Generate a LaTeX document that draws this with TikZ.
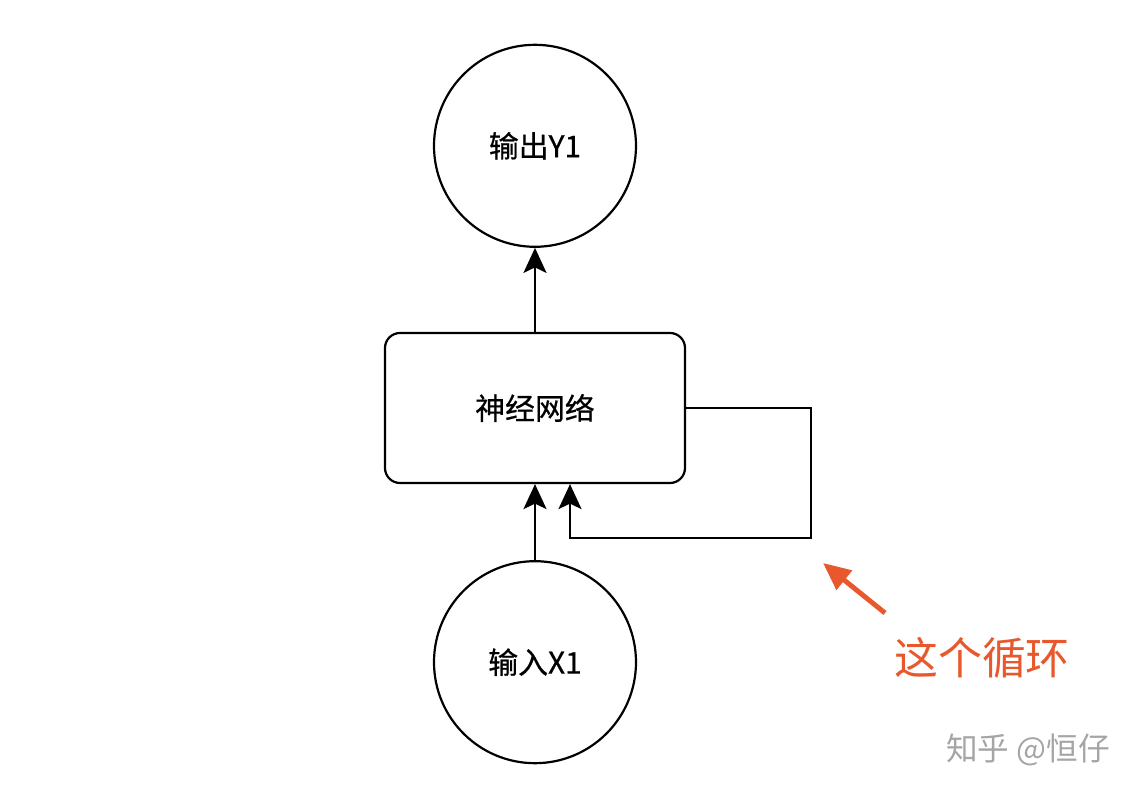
\documentclass[tikz,border=0pt]{standalone}
\usepackage{fontspec}
\usepackage{tikz}
\usepackage{xcolor}
\usetikzlibrary{positioning, arrows.meta, calc}
\newfontfamily\cjk{Noto Sans CJK SC}
\newfontfamily\cjklabel[FakeBold=0.6]{Noto Sans CJK SC}
\definecolor{rnnred}{RGB}{232, 88, 44}
\definecolor{markgray}{RGB}{165, 165, 165}

\begin{document}
\begin{tikzpicture}[node distance=1.68cm, every node/.style={align=center, font=\cjklabel\fontsize{17}{20}\selectfont},
    unit/.style={draw, circle, line width=1.25pt, minimum size=4.04cm, inner sep=0pt},
    link/.style={line width=1.25pt, -{Stealth[length=0.5cm, width=0.46cm, inset=0.11cm]}}]
    \useasboundingbox (-10.7,-7.84) rectangle (12.22,8.16);

    \node[draw, rounded corners=0.3cm, line width=1.25pt, minimum width=6cm, minimum height=3cm] (net) at (0,0) {神经网络};
    \node[unit, above=of net] (out) {输出Y1};
    \node[unit, below=1.52cm of net] (in) {输入X1};

    \draw[link] (net) -- (out);
    \draw[link] (in) -- (net);
    \draw[link] (net.east) -- ++(2.5,0) -- ++(0,-2.6) -| ([xshift=0.7cm]net.south);

    % pointer to the loop
    \node[text=rnnred, font=\cjk\fontsize{25}{30}\selectfont] (note) at (8.94,-5.0) {这个循环};
    \coordinate (ptail) at (7.0,-4.1);
    \coordinate (phead) at (5.76,-3.1);
    \draw[rnnred, line width=2.8pt, -{Triangle[length=0.55cm, width=0.48cm]}] (ptail) -- (phead);

    \node[text=markgray, font=\cjk\fontsize{18}{21}\selectfont] (mark) at (9.86,-6.84) {知乎 @恒仔};
  \end{tikzpicture}
\end{document}
